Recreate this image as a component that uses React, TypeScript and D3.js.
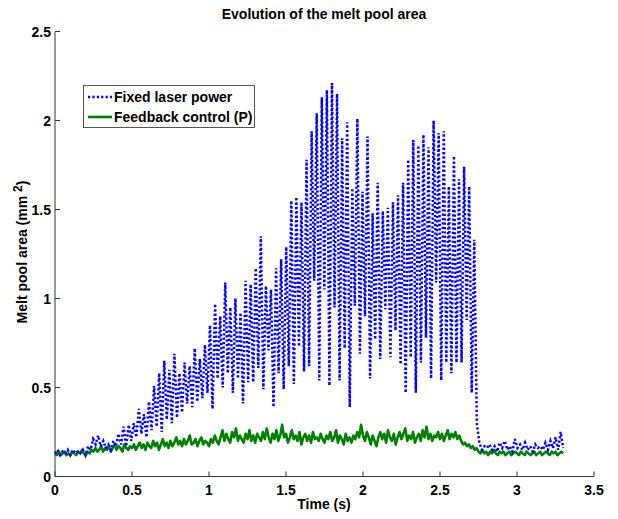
import React from 'react';
import * as d3 from 'd3';

// blue series: troughs at t = i*dt, peaks at t = i*dt + dt/2
const blueStep = 0.033;
const blueTroughs = [
  0.13, 0.12, 0.13, 0.12, 0.13, 0.13, 0.12, 0.15, 0.18, 0.17,
  0.16, 0.15, 0.17, 0.18, 0.17, 0.20, 0.22, 0.24, 0.22, 0.26,
  0.28, 0.25, 0.32, 0.30, 0.33, 0.36, 0.41, 0.39, 0.42, 0.44,
  0.47, 0.38, 0.55, 0.50, 0.58, 0.47, 0.55, 0.41, 0.53, 0.53,
  0.61, 0.49, 0.71, 0.39, 0.58, 0.49, 0.62, 0.52, 0.73, 0.59,
  0.62, 1.10, 0.54, 1.05, 0.51, 0.95, 0.54, 0.72, 0.39, 0.96,
  0.69, 0.90, 0.55, 0.77, 0.66, 0.94, 0.67, 0.82, 0.63, 0.47,
  0.67, 0.47, 0.64, 0.78, 0.55, 1.09, 0.54, 0.64, 0.58, 0.64,
  0.64, 0.88, 0.47, 0.30, 0.15, 0.16, 0.15, 0.14, 0.16, 0.15,
  0.14, 0.16, 0.15, 0.15, 0.14, 0.16, 0.15, 0.15, 0.16, 0.15,
  0.16,
];
const bluePeaks = [
  0.15, 0.14, 0.15, 0.15, 0.14, 0.15, 0.17, 0.21, 0.23, 0.20,
  0.18, 0.20, 0.24, 0.28, 0.29, 0.30, 0.38, 0.35, 0.42, 0.51,
  0.58, 0.65, 0.60, 0.69, 0.58, 0.64, 0.62, 0.72, 0.66, 0.74,
  0.85, 0.97, 0.90, 1.09, 0.95, 1.00, 0.92, 1.10, 1.08, 1.17,
  1.35, 1.07, 1.05, 1.17, 1.22, 1.29, 1.55, 1.57, 1.54, 1.78,
  1.94, 2.04, 2.13, 2.17, 2.21, 2.15, 1.90, 1.99, 1.62, 2.01,
  1.60, 1.91, 1.48, 1.65, 1.49, 1.51, 1.54, 1.58, 1.65, 1.78,
  1.89, 1.86, 1.92, 1.85, 2.00, 1.93, 1.94, 1.63, 1.80, 1.67,
  1.74, 1.63, 1.33, 0.19, 0.17, 0.18, 0.17, 0.19, 0.20, 0.17,
  0.21, 0.18, 0.19, 0.17, 0.18, 0.17, 0.19, 0.20, 0.22, 0.25,
];

// green series, sampled every 0.0125 s
const greenStep = 0.0125;
const greenValues = [
  0.13, 0.12, 0.14, 0.12, 0.13, 0.14, 0.12, 0.13, 0.12, 0.14, 0.13, 0.12, 0.14, 0.13, 0.15, 0.13, 0.12, 0.14, 0.13, 0.15,
  0.14, 0.16, 0.14, 0.15, 0.17, 0.14, 0.16, 0.15, 0.17, 0.14, 0.16, 0.18, 0.15, 0.17, 0.16, 0.14, 0.18, 0.16, 0.15, 0.17,
  0.16, 0.18, 0.15, 0.17, 0.19, 0.16, 0.18, 0.15, 0.19, 0.17, 0.16, 0.20, 0.17, 0.19, 0.15, 0.18, 0.21, 0.17, 0.19, 0.16,
  0.20, 0.17, 0.19, 0.22, 0.18, 0.20, 0.17, 0.21, 0.18, 0.20, 0.23, 0.18, 0.19, 0.21, 0.17, 0.20, 0.22, 0.18, 0.20, 0.19,
  0.17, 0.21, 0.19, 0.23, 0.20, 0.18, 0.22, 0.26, 0.20, 0.24, 0.21, 0.19, 0.25, 0.22, 0.27, 0.20, 0.23, 0.21, 0.19, 0.24,
  0.21, 0.26, 0.20, 0.23, 0.19, 0.24, 0.22, 0.20, 0.25, 0.21, 0.27, 0.22, 0.19, 0.24, 0.21, 0.26, 0.20, 0.23, 0.29, 0.22,
  0.24, 0.19, 0.22, 0.26, 0.21, 0.23, 0.20, 0.25, 0.18, 0.22, 0.24, 0.20, 0.23, 0.19, 0.25, 0.21, 0.22, 0.20, 0.24, 0.21,
  0.19, 0.23, 0.21, 0.25, 0.20, 0.22, 0.26, 0.19, 0.23, 0.21, 0.18, 0.24, 0.20, 0.22, 0.19, 0.23, 0.21, 0.25, 0.22, 0.29,
  0.23, 0.20, 0.25, 0.22, 0.18, 0.23, 0.20, 0.17, 0.22, 0.25, 0.21, 0.24, 0.19, 0.26, 0.22, 0.20, 0.24, 0.18, 0.22, 0.25,
  0.21, 0.24, 0.27, 0.20, 0.23, 0.21, 0.25, 0.19, 0.22, 0.24, 0.20, 0.26, 0.22, 0.28, 0.21, 0.24, 0.20, 0.23, 0.22, 0.25,
  0.21, 0.24, 0.20, 0.23, 0.26, 0.21, 0.24, 0.22, 0.25, 0.21, 0.23, 0.20, 0.18, 0.19, 0.17, 0.18, 0.16, 0.17, 0.15, 0.16,
  0.14, 0.13, 0.15, 0.13, 0.14, 0.12, 0.14, 0.13, 0.15, 0.13, 0.12, 0.14, 0.13, 0.14, 0.12, 0.13, 0.14, 0.12, 0.13, 0.14,
  0.13, 0.12, 0.14, 0.13, 0.12, 0.14, 0.13, 0.12, 0.13, 0.14, 0.12, 0.13, 0.14, 0.12, 0.13, 0.14, 0.13, 0.12, 0.14, 0.13,
  0.14, 0.12, 0.13, 0.14, 0.13,
];

const xTicks = [0, 0.5, 1, 1.5, 2, 2.5, 3, 3.5];
const yTicks = [0, 0.5, 1, 1.5, 2, 2.5];
const legendLabels = ['Fixed laser power', 'Feedback control (P)'];

const W = 618;
const H = 519;
const font = '"Liberation Sans", Arial, sans-serif';

export default function App() {
  const x = d3.scaleLinear().domain([0, 3.5]).range([55, 594]);
  const y = d3.scaleLinear().domain([0, 2.5]).range([476.5, 31.5]);

  const bluePts: [number, number][] = [];
  bluePeaks.forEach((p, i) => {
    bluePts.push([i * blueStep, blueTroughs[i]]);
    bluePts.push([i * blueStep + blueStep / 2, p]);
  });
  bluePts.push([bluePeaks.length * blueStep, blueTroughs[bluePeaks.length]]);

  const greenPts: [number, number][] = greenValues.map((v, i) => [i * greenStep, v]);

  const line = d3.line<[number, number]>().x(d => x(d[0])).y(d => y(d[1]));

  const x0 = x(0);
  const yBase = y(0);

  return (
    <svg width={W} height={H} style={{ position: 'absolute', left: 0, top: 0, background: '#fff' }} fontFamily={font}>
      <rect width={W} height={H} fill="#fff" />
      <path d={line(greenPts) || ''} fill="none" stroke="#008000" strokeWidth={2.6} strokeLinejoin="round" />
      <path d={line(bluePts) || ''} fill="none" stroke="#0000ff" strokeWidth={2.5} strokeDasharray="2.2,2.2" />

      {/* axes */}
      <line x1={x0} x2={x0} y1={y(2.5)} y2={yBase} stroke="#333" strokeWidth={1} />
      <line x1={x0} x2={x(3.5)} y1={yBase} y2={yBase} stroke="#333" strokeWidth={1} />
      {xTicks.map(t => (
        <g key={'x' + t}>
          <line x1={x(t)} x2={x(t)} y1={yBase} y2={yBase - 5} stroke="#333" />
          <text x={x(t)} y={495} textAnchor="middle" fontSize={14} fontWeight="bold">{String(t)}</text>
        </g>
      ))}
      {yTicks.map(t => (
        <g key={'y' + t}>
          <line x1={x0} x2={x0 + 5} y1={y(t)} y2={y(t)} stroke="#333" />
          <text x={51} y={y(t) + 5} textAnchor="end" fontSize={14} fontWeight="bold">{String(t)}</text>
        </g>
      ))}

      <text x={324} y={19} textAnchor="middle" fontSize={14} fontWeight="bold">Evolution of the melt pool area</text>
      <text x={324} y={509} textAnchor="middle" fontSize={14} fontWeight="bold">Time (s)</text>
      <text transform="translate(27,252) rotate(-90)" textAnchor="middle" fontSize={14} fontWeight="bold">
        Melt pool area (mm <tspan dy={-5} fontSize={12}>2</tspan><tspan dy={5}>)</tspan>
      </text>

      {/* legend */}
      <g>
        <rect x={83.5} y={85.5} width={171} height={42} fill="#fff" stroke="#555" strokeWidth={1} />
        <line x1={88} x2={112} y1={97} y2={97} stroke="#0000ff" strokeWidth={2.5} strokeDasharray="2.2,2.2" />
        <line x1={88} x2={112} y1={117} y2={117} stroke="#008000" strokeWidth={2.6} />
        <text x={114} y={102} fontSize={14} fontWeight="bold">{legendLabels[0]}</text>
        <text x={114} y={122} fontSize={14} fontWeight="bold">{legendLabels[1]}</text>
      </g>
    </svg>
  );
}
